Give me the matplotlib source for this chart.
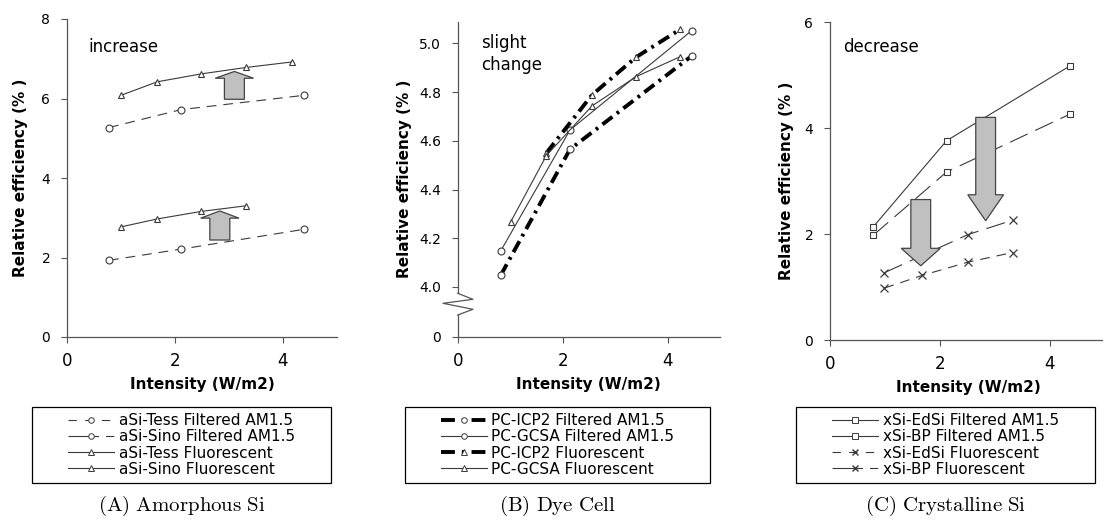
import numpy as np
import matplotlib
matplotlib.use("Agg")
import matplotlib.pyplot as plt
from matplotlib.lines import Line2D
from matplotlib.patches import Rectangle

plt.rcParams['font.family'] = 'DejaVu Sans'
plt.rcParams['mathtext.fontset'] = 'cm'
plt.rcParams['lines.scale_dashes'] = False

# ---- data ----
# (A) amorphous Si
a_x_circ = [0.78, 2.11, 4.39]
a_tess_filt = [1.93, 2.21, 2.71]
a_sino_filt = [5.27, 5.72, 6.08]
a_x_tri = [1.0, 1.67, 2.49, 3.31, 4.17]
a_tess_fluor = [2.77, 2.97, 3.16, 3.30]
a_sino_fluor = [6.08, 6.42, 6.62, 6.78, 6.92]

# (B) dye cell
b_x_circ = [0.82, 2.14, 4.46]
b_icp2_filt = [4.048, 4.565, 4.948]
b_gcsa_filt = [4.148, 4.644, 5.052]
b_x_tri = [1.01, 1.69, 2.56, 3.40, 4.24]
b_icp2_fluor = [4.55, 4.788, 4.943, 5.057]
b_gcsa_fluor = [4.267, 4.539, 4.743, 4.863, 4.945]

# (C) crystalline Si
c_x_sq = [0.79, 2.12, 4.36]
c_edsi_filt = [2.14, 3.76, 5.17]
c_bp_filt = [1.98, 3.17, 4.26]
c_x_cross = [0.99, 1.68, 2.51, 3.32]
c_edsi_fluor = [0.98, 1.22, 1.47, 1.65]
c_x_cross_bp = [0.99, 2.51, 3.32]
c_bp_fluor = [1.27, 1.99, 2.26]

a_labels = ['aSi-Tess Filtered AM1.5', 'aSi-Sino Filtered AM1.5',
            'aSi-Tess Fluorescent', 'aSi-Sino Fluorescent']
b_labels = ['PC-ICP2 Filtered AM1.5', 'PC-GCSA Filtered AM1.5',
            'PC-ICP2 Fluorescent', 'PC-GCSA Fluorescent']
c_labels = ['xSi-EdSi Filtered AM1.5', 'xSi-BP Filtered AM1.5',
            'xSi-EdSi Fluorescent', 'xSi-BP Fluorescent']
captions = [r'$\mathrm{(A)\ Amorphous\ Si}$', r'$\mathrm{(B)\ Dye\ Cell}$',
            r'$\mathrm{(C)\ Crystalline\ Si}$']

W, H = 1103, 522
LC = '#3a3a3a'
SPC = '#555555'
AFC = '#c0c0c0'

fig = plt.figure(figsize=(W / 100, H / 100), dpi=100)


def add_axes(l, r, t, b):
    return fig.add_axes([l / W, 1 - b / H, (r - l) / W, (b - t) / H])


def style(ax):
    for s in ['top', 'right']:
        ax.spines[s].set_visible(False)
    for s in ['left', 'bottom']:
        ax.spines[s].set_color(SPC)
        ax.spines[s].set_linewidth(0.9)
    ax.tick_params(axis='y', length=4, pad=8, labelsize=10, color=SPC)
    ax.tick_params(axis='x', length=4, pad=7, labelsize=12, color=SPC)
    ax.set_xlim(0, 5)
    ax.set_xticks([0, 2, 4])
    ax.set_xlabel('Intensity (W/m2)', fontsize=11, fontweight='bold')
    ax.set_ylabel('Relative efficiency (% )', fontsize=11, fontweight='bold')


mk = dict(mfc='white', mec=LC, mew=0.8, ms=5)
thin = dict(color=LC, lw=0.8)

# ---------- (A) ----------
axA = add_axes(67, 337, 19, 337)
style(axA)
axA.set_ylim(0, 8)
axA.set_yticks([0, 2, 4, 6, 8])
axA.plot(a_x_circ, a_tess_filt, marker='o', dashes=(7, 5), **thin, **mk)
axA.plot(a_x_circ, a_sino_filt, marker='o', dashes=(7, 5), **thin, **mk)
axA.plot(a_x_tri[:4], a_tess_fluor, marker='^', **thin, **mk)
axA.plot(a_x_tri, a_sino_fluor, marker='^', **thin, **mk)
axA.arrow(3.10, 5.98, 0, 0.70, width=0.37, head_width=0.71, head_length=0.17,
          length_includes_head=True, fc=AFC, ec='#444444', lw=0.9, zorder=5)
axA.arrow(2.83, 2.44, 0, 0.73, width=0.37, head_width=0.71, head_length=0.18,
          length_includes_head=True, fc=AFC, ec='#444444', lw=0.9, zorder=5)
axA.text(0.39, 7.3, 'increase', fontsize=12, va='center')
axA.yaxis.set_label_coords(-0.145, 0.5)
axA.xaxis.set_label_coords(0.5, -0.125)

# ---------- (B) ----------
axB = add_axes(457.7, 720, 21.7, 336.7)
style(axB)
b_bottom = 4.0 - 49.7 / 243.7
axB.set_ylim(b_bottom, 4.0 + (287 - 21.7) / 243.7)
axB.set_yticks([b_bottom, 4.0, 4.2, 4.4, 4.6, 4.8, 5.0])
axB.set_yticklabels(['0', '4.0', '4.2', '4.4', '4.6', '4.8', '5.0'])
thick = dict(color='black', lw=2.8, dashes=(9, 4, 2, 4), dash_capstyle='butt')
axB.plot(b_x_circ, b_icp2_filt, marker='o', **thick, **mk)
axB.plot(b_x_circ, b_gcsa_filt, marker='o', **thin, **mk)
axB.plot(b_x_tri[1:], b_icp2_fluor, marker='^', **thick, **mk)
axB.plot(b_x_tri, b_gcsa_fluor, marker='^', **thin, **mk)
axB.text(0.45, 4.955, 'slight\nchange', fontsize=12, va='center', linespacing=1.3)
axB.spines['left'].set_visible(False)
tr = axB.transAxes
seg = dict(color=SPC, lw=0.9, transform=tr, clip_on=False)
axB.plot([0, 0], [1, 0.1378], **seg)
axB.plot([0, 0.058, -0.056, 0.058, 0], [0.1378, 0.1187, 0.106, 0.087, 0.0689], **seg)
axB.plot([0, 0], [0.0689, 0], **seg)
axB.yaxis.set_label_coords(-0.175, 0.5)
axB.xaxis.set_label_coords(0.5, -0.127)

# ---------- (C) ----------
axC = add_axes(830, 1105, 22, 340)
style(axC)
axC.set_ylim(0, 6)
axC.set_yticks([0, 2, 4, 6])
axC.plot(c_x_sq, c_edsi_filt, marker='s', **thin, **mk)
axC.plot(c_x_sq, c_bp_filt, marker='s', dashes=(14, 6), **thin, **mk)
axC.plot(c_x_cross, c_edsi_fluor, marker='x', dashes=(7, 5), color=LC, lw=0.8,
         mec=LC, mew=0.9, ms=6)
axC.plot(c_x_cross_bp, c_bp_fluor, marker='x', dashes=(14, 6), color=LC, lw=0.8,
         mec=LC, mew=0.9, ms=6)
axC.arrow(1.65, 2.65, 0, -1.25, width=0.36, head_width=0.71, head_length=0.33,
          length_includes_head=True, fc=AFC, ec='#444444', lw=0.9, zorder=5)
axC.arrow(2.83, 4.20, 0, -1.95, width=0.36, head_width=0.65, head_length=0.49,
          length_includes_head=True, fc=AFC, ec='#444444', lw=0.9, zorder=5)
axC.text(0.23, 5.52, 'decrease', fontsize=12, va='center')
axC.yaxis.set_label_coords(-0.13, 0.5)
axC.xaxis.set_label_coords(0.505, -0.126)

# ---------- legends ----------
lmk = dict(mfc='white', mec=LC, mew=0.7, ms=4)
hA = [Line2D([], [], color=LC, lw=0.8, dashes=(6, 6), marker='o', **lmk),
      Line2D([], [], color=LC, lw=0.8, dashes=(22, 5, 6, 10), marker='o', **lmk),
      Line2D([], [], color=LC, lw=0.8, marker='^', **lmk),
      Line2D([], [], color=LC, lw=0.8, marker='^', **lmk)]
hB = [Line2D([], [], color='black', lw=2.8, dashes=(10, 5, 2, 5), marker='o', **lmk),
      Line2D([], [], color=LC, lw=0.8, marker='o', **lmk),
      Line2D([], [], color='black', lw=2.8, dashes=(10, 5, 2, 5), marker='^', **lmk),
      Line2D([], [], color=LC, lw=0.8, marker='^', **lmk)]
hC = [Line2D([], [], color=LC, lw=0.8, marker='s', **lmk),
      Line2D([], [], color=LC, lw=0.8, marker='s', **lmk),
      Line2D([], [], color=LC, lw=0.8, dashes=(6, 6), marker='x', mec=LC, ms=5),
      Line2D([], [], color=LC, lw=0.8, dashes=(22, 5, 6, 10), marker='x', mec=LC, ms=5)]

boxes = [(32, 331), (405, 710), (796, 1095)]
box_t, box_b = 407, 483
for (l, r), hs, labs, cap in zip(boxes, [hA, hB, hC], [a_labels, b_labels, c_labels], captions):
    cx = (l + r) / 2 / W
    cy = 1 - (box_t + box_b) / 2 / H
    fig.legend(hs, labs, loc='center', bbox_to_anchor=(cx, cy), frameon=False,
               fontsize=11, handlelength=3.0, handletextpad=0.3, labelspacing=0.08,
               borderpad=0.2)
    fig.patches.append(Rectangle((l / W, 1 - box_b / H), (r - l) / W, (box_b - box_t) / H,
                                 transform=fig.transFigure, fill=False, ec='black', lw=0.9))
    fig.text(cx, 1 - 506 / H, cap, fontsize=15, ha='center', va='center')

fig.savefig('out.png', dpi=100)
